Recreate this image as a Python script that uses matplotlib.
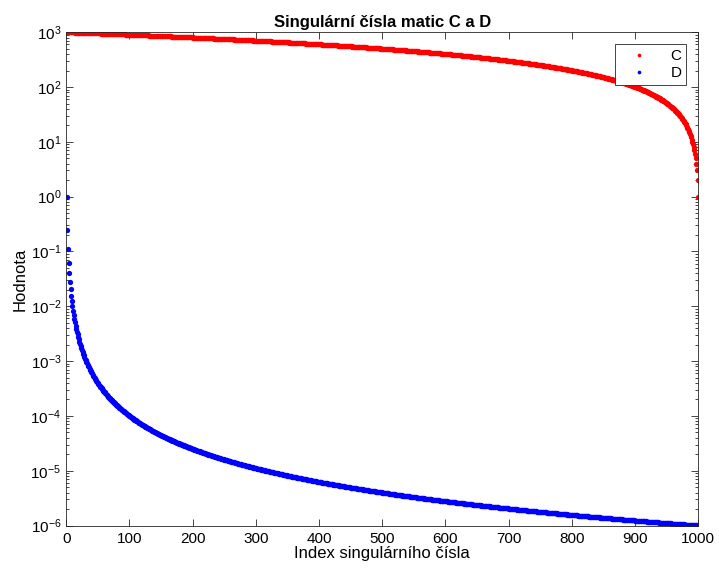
import numpy as np
import matplotlib.pyplot as plt

plt.rcParams['font.family'] = ['Liberation Sans', 'DejaVu Sans']

# singular values: C goes 1000, 999, ..., 1 ; D = 1, 1/4, 1/9, ... 1e-6
index = np.arange(1, 1001)
C = np.arange(1000, 0, -1).astype(float)
D = 1.0 / index.astype(float) ** 2

xticks = [0, 100, 200, 300, 400, 500, 600, 700, 800, 900, 1000]

fig = plt.figure(figsize=(7.19, 5.75), dpi=100)
ax = fig.add_axes([0.092, 0.086, 0.879, 0.858])

ax.semilogy(index, C, 'o', color='#ff0000', ms=3.8, mec='none', label='C')
ax.semilogy(index, D, 'o', color='#0000ff', ms=3.8, mec='none', label='D')

ax.set_xlim(0, 1000)
ax.set_ylim(1e-6, 1e3)
ax.set_xticks(xticks)
ax.tick_params(which='both', direction='in', top=True, right=True,
               labelsize=11, color='#262626', width=0.6)
ax.tick_params(which='major', length=5)
ax.tick_params(which='minor', length=2.5)
ax.tick_params(axis='x', pad=5)
for s in ax.spines.values():
    s.set_linewidth(0.6)
    s.set_color('#262626')

ax.set_title('Singulární čísla matic C a D', fontsize=12, fontweight='bold', pad=4)
ax.set_xlabel('Index singulárního čísla', fontsize=12, labelpad=0)
ax.set_ylabel('Hodnota', fontsize=12, labelpad=2)

leg = ax.legend(loc='upper right', fancybox=False, edgecolor='#262626',
                fontsize=11, markerscale=0.7, handlelength=2.5,
                borderaxespad=0.8, framealpha=1, markerfirst=True,
                borderpad=0.3, labelspacing=0.2)
leg.get_frame().set_linewidth(0.6)

fig.savefig('out.png', dpi=100)
